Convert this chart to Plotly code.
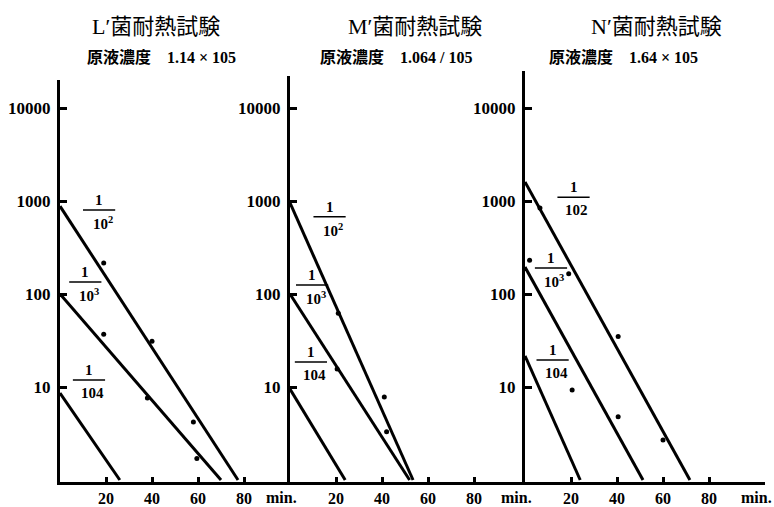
import numpy as np
import plotly.graph_objects as go

W, H = 774, 507

# ---------------- data ----------------
titles = ["L′菌耐熱試験", "M′菌耐熱試験", "N′菌耐熱試験"]
subtitles = ["原液濃度　1.14 × 105", "原液濃度　1.064 / 105", "原液濃度　1.64 × 105"]
dilution_labels = [
    ["10<sup>2</sup>", "10<sup>3</sup>", "104"],
    ["10<sup>2</sup>", "10<sup>3</sup>", "104"],
    ["102", "10<sup>3</sup>", "104"],
]

# fitted survival lines: count at t=0 and time (min) where the line reaches 1
L_line_start = [880, 100, 8.6]
L_line_end_t = [77.4, 70, 26]
M_line_start = [955, 100, 9.5]
M_line_end_t = [53.5, 52, 24]
N_line_start = [1600, 195, 21.6]
N_line_end_t = [71.7, 51.3, 24]

# observed points
L_pts_t = [19, 40, 58, 19, 38, 59.5]
L_pts_v = [215, 31, 4.2, 37, 7.6, 1.7]
M_pts_t = [21, 41, 20.5, 42]
M_pts_v = [62, 7.8, 15.6, 3.3]
N_pts_t = [6.5, 40.5, 60, 2, 19, 40.5, 20.5]
N_pts_v = [840, 35, 2.7, 230, 165, 4.8, 9.3]

# dilution label anchors (fraction bar centre)
L_frac_t = [17, 11, 12.6]
L_frac_v = [800, 135, 11.9]
M_frac_t = [17.2, 9.6, 9.1]
M_frac_v = [675, 125, 18.6]
N_frac_t = [21.1, 11.3, 12]
N_frac_v = [1100, 190, 19.5]

x_ticks = [20, 40, 60, 80]
y_ticks = [10, 100, 1000, 10000]
y_ticktext = ["10", "100", "1000", "10000"]

# ---------------- layout geometry ----------------
x_px = [(60, 290), (290, 525), (525, 765)]
y_top_px = [80, 76, 71]
y_bot_px = 482
px_per_min = 2.3
px_per_decade = 93
one_px = 480

serif = "Liberation Serif"
mixed = "Liberation Serif, Noto Sans CJK JP"

lines_start = [L_line_start, M_line_start, N_line_start]
lines_end = [L_line_end_t, M_line_end_t, N_line_end_t]
pts_t = [L_pts_t, M_pts_t, N_pts_t]
pts_v = [L_pts_v, M_pts_v, N_pts_v]
frac_t = [L_frac_t, M_frac_t, N_frac_t]
frac_v = [L_frac_v, M_frac_v, N_frac_v]

fig = go.Figure()
annotations = []
layout_axes = {}

for i in range(3):
    xa = "x" if i == 0 else f"x{i+1}"
    ya = "y" if i == 0 else f"y{i+1}"
    x0, x1 = x_px[i]
    xr = [0, (x1 - x0) / px_per_min]
    yr = [(one_px - y_bot_px) / px_per_decade, (one_px - y_top_px[i]) / px_per_decade]

    for s, e in zip(lines_start[i], lines_end[i]):
        fig.add_trace(go.Scatter(x=[0, e], y=[s, 1], mode="lines",
                                 line=dict(color="black", width=3),
                                 xaxis=xa, yaxis=ya, hoverinfo="skip",
                                 showlegend=False, cliponaxis=False))
    fig.add_trace(go.Scatter(x=pts_t[i], y=pts_v[i], mode="markers",
                             marker=dict(color="black", size=5),
                             xaxis=xa, yaxis=ya, showlegend=False))

    for k in range(3):
        t, v = frac_t[i][k], frac_v[i][k]
        fig.add_trace(go.Scatter(x=[t - 7, t + 7], y=[v, v], mode="lines",
                                 line=dict(color="black", width=1.5),
                                 xaxis=xa, yaxis=ya, hoverinfo="skip",
                                 showlegend=False))
        annotations.append(dict(x=t, y=np.log10(v), xref=xa, yref=ya, text="1",
                                showarrow=False, yshift=10,
                                xanchor="center", yanchor="middle",
                                font=dict(family=serif, size=15, color="black", weight="bold")))
        annotations.append(dict(x=t + 1.5, y=np.log10(v), xref=xa, yref=ya,
                                text=dilution_labels[i][k], showarrow=False, yshift=-13,
                                xanchor="center", yanchor="middle",
                                font=dict(family=serif, size=15, color="black", weight="bold")))

    layout_axes["xaxis" if i == 0 else f"xaxis{i+1}"] = dict(
        domain=[x0 / W, x1 / W], range=xr, anchor=ya,
        showline=True, linewidth=3, linecolor="black",
        ticks="inside", ticklen=5, tickwidth=2.5, tickcolor="black",
        tickvals=x_ticks, showgrid=False, zeroline=False, automargin=False,
        ticklabelstandoff=0,
        tickfont=dict(family=serif, size=16, color="black", weight="bold"),
    )
    layout_axes["yaxis" if i == 0 else f"yaxis{i+1}"] = dict(
        domain=[1 - y_bot_px / H, 1 - y_top_px[i] / H], type="log", range=yr,
        anchor=xa, showline=True, linewidth=3, linecolor="black",
        ticks="inside", ticklen=7, tickwidth=3, tickcolor="black",
        tickvals=y_ticks, ticktext=y_ticktext, showgrid=False, zeroline=False,
        automargin=False, ticklabelstandoff=3,
        tickfont=dict(family=serif, size=17, color="black", weight="bold"),
    )

    # "min." label
    annotations.append(dict(x=(x1 - x0) / px_per_min - 3.5, y=1 - 497 / H, xref=xa, yref="paper",
                            text="min.", showarrow=False, xanchor="center", yanchor="middle",
                            font=dict(family=serif, size=16, color="black", weight="bold")))

title_cx = [156, 415, 656]
sub_cx = [161, 396, 623]
for i in range(3):
    annotations.append(dict(x=title_cx[i] / W, y=1 - 26 / H, xref="paper", yref="paper",
                            text=titles[i], showarrow=False,
                            xanchor="center", yanchor="middle",
                            font=dict(family=mixed, size=22, color="black")))
    annotations.append(dict(x=sub_cx[i] / W, y=1 - 57 / H, xref="paper", yref="paper",
                            text=subtitles[i], showarrow=False,
                            xanchor="center", yanchor="middle",
                            font=dict(family=mixed, size=16, color="black", weight="bold")))

fig.update_layout(
    width=W, height=H, autosize=False,
    margin=dict(l=0, r=0, t=0, b=0),
    paper_bgcolor="white", plot_bgcolor="white",
    annotations=annotations, showlegend=False,
    **layout_axes,
)

fig.write_html("out.html", config={"displayModeBar": False},
               post_script="document.body.style.margin='0';")
